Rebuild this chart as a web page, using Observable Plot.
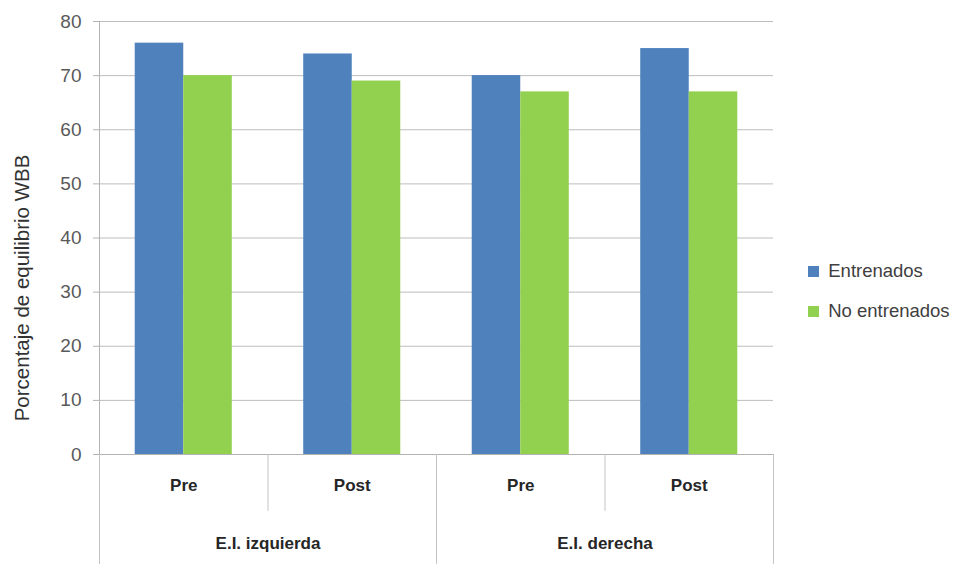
<!DOCTYPE html>
<html>
<head>
<meta charset="utf-8">
<script src="https://cdn.jsdelivr.net/npm/d3@7"></script>
<script src="https://cdn.jsdelivr.net/npm/@observablehq/plot@0.6"></script>
<style>
  html, body { margin: 0; padding: 0; background: #fff; }
  #chart { position: relative; width: 955px; height: 564px; }
  #legend { position: absolute; left: 808px; top: 260px; }
  .lg-swatches { font-family: "Liberation Sans", Arial, sans-serif !important; font-size: 18.5px !important; color: #404040 !important; }
  .lg-swatch { margin-bottom: 17px !important; }
</style>
</head>
<body>
<div id="chart"><div id="legend"></div></div>
<script>
// Balance percentage (WBB) by limb and moment, trained vs. untrained
const groups = ["E.I. izquierda", "E.I. derecha"];
const phases = ["Pre", "Post", "Pre", "Post"];
const series = ["Entrenados", "No entrenados"];
const entrenados = [76, 74, 70, 75];
const noEntrenados = [70, 69, 67, 67];
const yTicks = [0, 10, 20, 30, 40, 50, 60, 70, 80];
const colors = ["#4f81bd", "#92d050"];

// Layout of the clustered bars inside each category slot (fractions of a slot)
const barWidth = 0.288;
const slotGap = (1 - 2 * barWidth) / 2;
// Depth of the category table below the axis, in y units
const rowEnd = -10.5;
const tableEnd = -20.3;

const bars = phases.flatMap((phase, i) => [
  {slot: i, s: 0, series: series[0], value: entrenados[i]},
  {slot: i, s: 1, series: series[1], value: noEntrenados[i]}
]);
const slots = phases.map((phase, i) => ({slot: i, phase, group: groups[Math.floor(i / 2)]}));
const boundaries = d3.range(phases.length + 1);
const groupLabels = groups.map((g, j) => ({x: 2 * j + 1, text: g}));

const plot = Plot.plot({
  width: 955,
  height: 564,
  marginLeft: 99,
  marginRight: 182,
  marginTop: 21,
  marginBottom: 110,
  style: {fontFamily: "Liberation Sans, Arial, sans-serif", background: "white", overflow: "visible"},
  x: {domain: [0, phases.length], axis: null},
  y: {domain: [0, 80], axis: null},
  color: {domain: series, range: colors},
  marks: [
    Plot.gridY({ticks: yTicks, stroke: "#bdbdbd", strokeOpacity: 1}),
    Plot.rectY(bars, {
      x1: d => d.slot + slotGap + d.s * barWidth,
      x2: d => d.slot + slotGap + (d.s + 1) * barWidth,
      y: "value",
      fill: "series"
    }),
    Plot.ruleY([0], {stroke: "#b3b3b3"}),
    Plot.ruleX([0], {y1: tableEnd, y2: 80, stroke: "#b3b3b3"}),
    Plot.ruleX(boundaries, {x: d => d, y1: 0, y2: d => (d % 2 ? rowEnd : tableEnd), stroke: "#c4c4c4"}),
    Plot.axisY({ticks: yTicks, tickSize: 6, tickPadding: 12, fontSize: 19, stroke: "#b3b3b3", fill: "#595959", label: null}),
    Plot.text(slots, {x: d => d.slot + 0.5, frameAnchor: "bottom", dy: 36, text: "phase", fontSize: 17, fontWeight: "bold", fill: "#262626"}),
    Plot.text(groupLabels, {x: "x", frameAnchor: "bottom", dy: 94, text: "text", fontSize: 17, fontWeight: "bold", fill: "#262626"}),
    Plot.text(["Porcentaje de equilibrio WBB"], {frameAnchor: "left", textAnchor: "middle", rotate: -90, dx: -77, dy: 50, fontSize: 20.5, fill: "#333333"})
  ]
});

document.getElementById("chart").prepend(plot);

const legend = Plot.legend({
  color: {domain: series, range: colors},
  legend: "swatches",
  columns: 1,
  swatchSize: 11,
  className: "lg"
});
document.getElementById("legend").append(legend);
</script>
</body>
</html>
